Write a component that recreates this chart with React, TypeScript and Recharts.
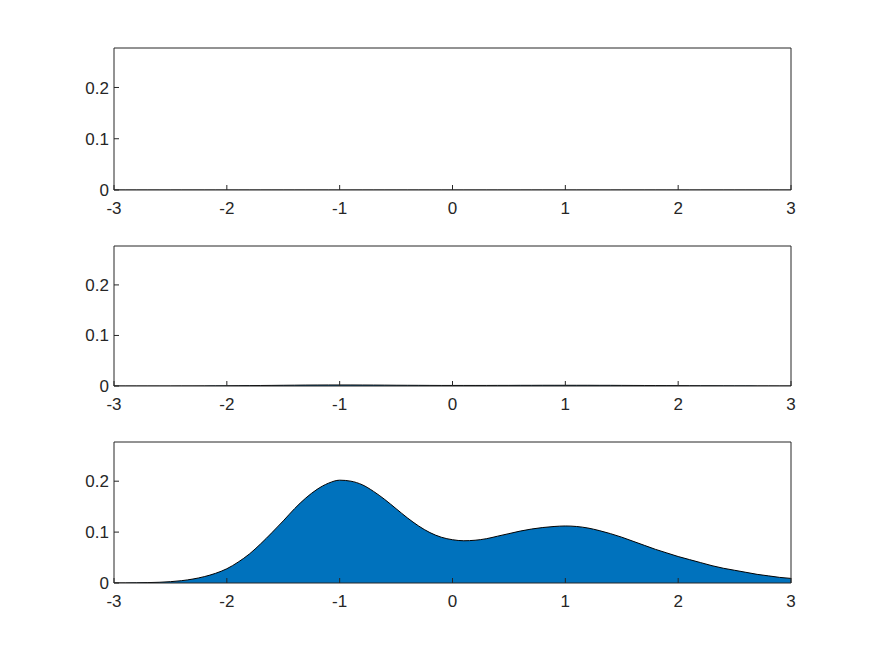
import React from 'react';
import { AreaChart, Area, XAxis, YAxis } from 'recharts';

const xValues = [
  -3, -2.9, -2.8, -2.7, -2.6, -2.5, -2.4, -2.3, -2.2, -2.1,
  -2, -1.9, -1.8, -1.7, -1.6, -1.5, -1.4, -1.3, -1.2, -1.1,
  -1, -0.9, -0.8, -0.7, -0.6, -0.5, -0.4, -0.3, -0.2, -0.1,
  0, 0.1, 0.2, 0.3, 0.4, 0.5, 0.6, 0.7, 0.8, 0.9,
  1, 1.1, 1.2, 1.3, 1.4, 1.5, 1.6, 1.7, 1.8, 1.9,
  2, 2.1, 2.2, 2.3, 2.4, 2.5, 2.6, 2.7, 2.8, 2.9, 3,
];
const topDensity = [
  0, 0, 0, 0, 0, 0, 0, 0, 0, 0,
  0, 0, 0, 0, 0, 0, 0, 0, 0, 0,
  0, 0, 0, 0, 0, 0, 0, 0, 0, 0,
  0, 0, 0, 0, 0, 0, 0, 0, 0, 0,
  0, 0, 0, 0, 0, 0, 0, 0, 0, 0,
  0, 0, 0, 0, 0, 0, 0, 0, 0, 0, 0,
];
const middleDensity = [
  0, 0, 0, 0, 0, 0, 0.0001, 0.0001, 0.0002, 0.0003,
  0.0004, 0.0006, 0.0008, 0.001, 0.0012, 0.0014, 0.0016, 0.0018, 0.0019, 0.002,
  0.002, 0.002, 0.0019, 0.0018, 0.0017, 0.0015, 0.0014, 0.0013, 0.0012, 0.0011,
  0.0011, 0.0011, 0.0011, 0.0011, 0.0012, 0.0012, 0.0013, 0.0013, 0.0014, 0.0014,
  0.0014, 0.0014, 0.0014, 0.0013, 0.0013, 0.0012, 0.0011, 0.001, 0.0009, 0.0008,
  0.0007, 0.0006, 0.0005, 0.0005, 0.0004, 0.0003, 0.0003, 0.0002, 0.0002, 0.0001, 0.0001,
];
const bottomDensity = [
  0.0001, 0.0002, 0.0004, 0.0008, 0.0014, 0.0026, 0.0046, 0.0078, 0.0125, 0.019,
  0.028, 0.041, 0.057, 0.077, 0.099, 0.122, 0.146, 0.167, 0.184, 0.196,
  0.202, 0.2, 0.193, 0.18, 0.164, 0.146, 0.128, 0.112, 0.099, 0.09,
  0.085, 0.083, 0.084, 0.087, 0.092, 0.097, 0.102, 0.106, 0.109, 0.111,
  0.112, 0.111, 0.108, 0.103, 0.097, 0.09, 0.082, 0.074, 0.066, 0.059,
  0.052, 0.046, 0.04, 0.034, 0.029, 0.025, 0.021, 0.017, 0.014, 0.011, 0.009,
];
const xTicks = [-3, -2, -1, 0, 1, 2, 3];
const yTicks = [0, 0.1, 0.2];
const yMax = 0.277;

const FONT = '"Liberation Sans", Arial, Helvetica, sans-serif';
const AXIS = '#262626';
const FS = 17;

function buildData(values: number[]) {
  return xValues.map((x, i) => ({ x, y: values[i] }));
}

const panels = [
  { top: 48, h: 142, values: topDensity },
  { top: 246, h: 140, values: middleDensity },
  { top: 442, h: 141, values: bottomDensity },
];

function XTick(props: any) {
  const { x, y, payload } = props;
  return (
    <text x={x} y={y} dy="0.71em" textAnchor="middle" fill={AXIS} fontSize={FS} fontFamily={FONT}>
      {String(payload.value)}
    </text>
  );
}

function YTick(props: any) {
  const { x, y, payload } = props;
  return (
    <text x={x} y={y} dy="0.355em" textAnchor="end" fill={AXIS} fontSize={FS} fontFamily={FONT}>
      {String(payload.value)}
    </text>
  );
}

function Panel({ values, h }: { values: number[]; h: number }) {
  const data = buildData(values);
  const mTop = 9;
  const xH = 40;
  return (
    <AreaChart
      width={875}
      height={mTop + 1 + h + xH}
      data={data}
      margin={{ top: mTop, right: 83, bottom: 0, left: 54 }}
    >
      <XAxis
        dataKey="x"
        type="number"
        domain={[-3, 3]}
        ticks={xTicks}
        interval={0}
        allowDataOverflow
        height={xH}
        stroke={AXIS}
        tickSize={-5}
        tickMargin={17}
        tick={<XTick />}
      />
      <XAxis
        xAxisId="top"
        dataKey="x"
        type="number"
        orientation="top"
        domain={[-3, 3]}
        ticks={xTicks}
        interval={0}
        allowDataOverflow
        height={1}
        stroke={AXIS}
        tickSize={-5}
        tick={false}
      />
      <YAxis
        type="number"
        domain={[0, yMax]}
        ticks={yTicks}
        interval={0}
        allowDataOverflow
        width={60}
        stroke={AXIS}
        tickSize={-5}
        tickMargin={10}
        tick={<YTick />}
      />
      <YAxis
        yAxisId="right"
        orientation="right"
        type="number"
        domain={[0, yMax]}
        ticks={yTicks}
        interval={0}
        allowDataOverflow
        width={1}
        stroke={AXIS}
        tickSize={-5}
        tick={false}
      />
      <Area
        type="monotone"
        dataKey="y"
        stroke="#000000"
        strokeWidth={1}
        fill="#0072BD"
        fillOpacity={1}
        isAnimationActive={false}
        dot={false}
        activeDot={false}
      />
    </AreaChart>
  );
}

export default function App() {
  return (
    <div
      style={{
        position: 'absolute',
        left: 0,
        top: 0,
        width: 875,
        height: 656,
        background: '#ffffff',
        fontFamily: FONT,
      }}
    >
      {panels.map((p, i) => (
        <div key={i} style={{ position: 'absolute', left: 0, top: p.top - 10 }}>
          <Panel values={p.values} h={p.h} />
        </div>
      ))}
    </div>
  );
}
